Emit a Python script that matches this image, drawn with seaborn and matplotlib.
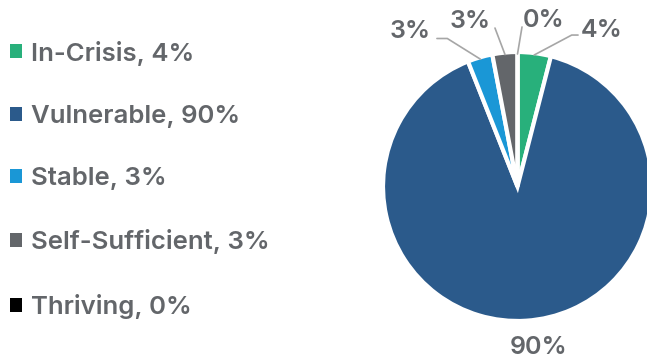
import matplotlib
matplotlib.use("Agg")
import matplotlib.pyplot as plt
from matplotlib.patches import Patch
import numpy as np
import seaborn as sns

# ---- data ----
categories = ["In-Crisis", "Vulnerable", "Stable", "Self-Sufficient", "Thriving"]
values = [4, 90, 3, 3, 0]
colors = ["#28B07B", "#2B5A8B", "#1A97D6", "#63666A", "#000000"]

# ---- layout (radius units, pie centre at 0,0) ----
# text anchor (x, baseline y, ha)
label_pos = [(0.479, 1.128, "left"), (0.162, -1.264, "center"),
             (-0.653, 1.121, "right"), (-0.200, 1.196, "right"),
             (0.042, 1.204, "left")]
# leader line end points (None = no leader) and elbow angle (None = straight)
leader_end = [(0.457, 1.143), None, (-0.608, 1.117), (-0.170, 1.196), (0.034, 1.204)]
leader_angle = [28, None, -32, None, None]

TEXT = "#63666A"
LINE = "#A6A6A6"
FS = 18.5
WEIGHT = "semibold"

sns.set_theme(style="white")
plt.rcParams["font.family"] = ["Inter", "DejaVu Sans"]

fig = plt.figure(figsize=(6.47, 3.6), dpi=100)
ax = fig.add_axes([0, 0, 1, 1])

wedges, _ = ax.pie(values, colors=colors, startangle=90, counterclock=False,
                   radius=1.015, wedgeprops=dict(edgecolor="white", linewidth=3))

ax.set_xlim(-517.5 / 132.5, (647 - 517.5) / 132.5)
ax.set_ylim(-(360 - 186.5) / 132.5, 186.5 / 132.5)
ax.set_aspect("auto")
ax.axis("off")

for i, w in enumerate(wedges):
    mid = np.deg2rad((w.theta1 + w.theta2) / 2)
    anchor = (np.cos(mid), np.sin(mid))
    tx, ty, ha = label_pos[i]
    ax.text(tx, ty, f"{values[i]}%", ha=ha, va="baseline", fontsize=18,
            fontweight=WEIGHT, color=TEXT)
    if leader_end[i] is not None:
        if leader_angle[i] is None:
            cs = "arc3"
        else:
            cs = f"angle,angleA=0,angleB={leader_angle[i]},rad=0"
        ax.annotate("", xy=anchor, xytext=leader_end[i],
                    arrowprops=dict(arrowstyle="-", color=LINE, lw=1.2,
                                    shrinkA=0, shrinkB=0, connectionstyle=cs))

handles = [Patch(facecolor=c, edgecolor="none") for c in colors]
labels = [f"{c}, {v}%" for c, v in zip(categories, values)]
leg = fig.legend(handles, labels, loc="center left", bbox_to_anchor=(0.0155, 0.501),
                 frameon=False, fontsize=FS, handlelength=0.45, handleheight=0.45,
                 handletextpad=0.36, labelspacing=1.53, borderpad=0, borderaxespad=0)
for t in leg.get_texts():
    t.set_color(TEXT)
    t.set_fontweight(WEIGHT)

fig.savefig("out.png", dpi=100)
